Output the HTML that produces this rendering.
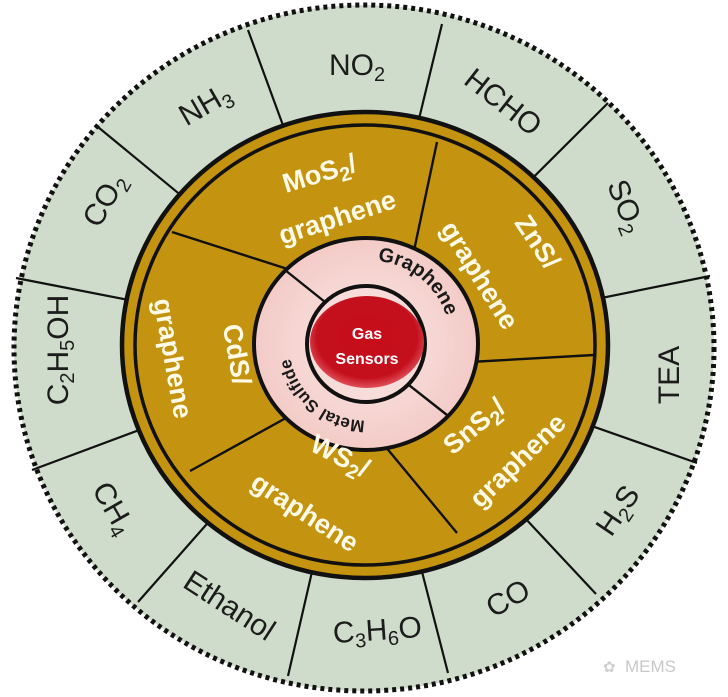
<!DOCTYPE html>
<html><head><meta charset="utf-8"><style>
html,body{margin:0;padding:0;background:#fff;}
svg{display:block;}
.g{font-family:"Liberation Sans",sans-serif;font-size:30px;fill:#1c1c1c;}
.s{font-size:20px;}
.w{font-family:"Liberation Sans",sans-serif;font-weight:bold;font-size:27px;fill:#fffbe8;}
.p{font-family:"Liberation Sans",sans-serif;font-weight:bold;fill:#1a1a1a;}
</style></head><body>
<svg width="728" height="697" viewBox="0 0 728 697" xmlns="http://www.w3.org/2000/svg">
<defs>
<radialGradient id="pk" cx="50%" cy="50%" r="50%"><stop offset="0" stop-color="#fbe7e5"/><stop offset="1" stop-color="#f3cbc7"/></radialGradient>
<radialGradient id="rd" cx="50%" cy="45%" r="55%"><stop offset="0" stop-color="#c80d1a"/><stop offset="0.8" stop-color="#c3101c"/><stop offset="1" stop-color="#e0505a"/></radialGradient>
<path id="gp" d="M329,272 A80,80 0 0 1 446,366"/>
<path id="mp" d="M392,416 A77,77 0 0 1 290,331"/>
</defs>
<ellipse cx="364" cy="348" rx="350" ry="343" fill="#d0dccb" stroke="#111" stroke-width="5" stroke-dasharray="4 4"/>
<g stroke="#111" stroke-width="2.2">
<line x1="248" y1="30" x2="364" y2="346"/>
<line x1="442" y1="24" x2="364" y2="346"/>
<line x1="608" y1="103" x2="364" y2="346"/>
<line x1="710" y1="276" x2="364" y2="346"/>
<line x1="697" y1="463" x2="364" y2="346"/>
<line x1="596" y1="594" x2="364" y2="346"/>
<line x1="448" y1="673" x2="364" y2="346"/>
<line x1="288" y1="676" x2="364" y2="346"/>
<line x1="138" y1="602" x2="364" y2="346"/>
<line x1="32" y1="470" x2="364" y2="346"/>
<line x1="16" y1="278" x2="364" y2="346"/>
<line x1="98" y1="127" x2="364" y2="346"/>
</g>
<ellipse cx="365" cy="345" rx="243" ry="233" fill="#c4930f" stroke="#111" stroke-width="4.5"/>
<ellipse cx="365" cy="345" rx="230" ry="220" fill="none" stroke="#111" stroke-width="3.5"/>
<g stroke="#111" stroke-width="2.4">
<line x1="172" y1="232" x2="300" y2="273"/>
<line x1="437" y1="142" x2="412" y2="260"/>
<line x1="594" y1="355" x2="470" y2="362"/>
<line x1="457" y1="533" x2="380" y2="440"/>
<line x1="190" y1="471" x2="295" y2="413"/>
</g>
<ellipse cx="366" cy="344" rx="112" ry="106" fill="url(#pk)" stroke="#111" stroke-width="4"/>
<g stroke="#111" stroke-width="2.4">
<line x1="285" y1="270" x2="335" y2="310"/>
<line x1="447" y1="415" x2="400" y2="378"/>
</g>
<ellipse cx="366" cy="344" rx="59" ry="58" fill="#f8dcd9" stroke="#111" stroke-width="4"/>
<ellipse cx="367" cy="342" rx="57" ry="46" fill="url(#rd)"/>
<text class="p" font-size="20" text-anchor="middle"><textPath href="#gp" startOffset="50%">Graphene</textPath></text>
<text class="p" font-size="17" text-anchor="middle"><textPath href="#mp" startOffset="50%">Metal Sulfide</textPath></text>
<text x="367" y="339" text-anchor="middle" style="font-family:'Liberation Sans',sans-serif;font-weight:bold;font-size:16px;fill:#fff">Gas</text>
<text x="367" y="364" text-anchor="middle" style="font-family:'Liberation Sans',sans-serif;font-weight:bold;font-size:16px;fill:#fff">Sensors</text>
<g class="w" text-anchor="middle">
<text transform="translate(322,182) rotate(-17)">MoS<tspan class="s" dy="6">2</tspan><tspan dy="-6">/</tspan></text>
<text transform="translate(340,226) rotate(-18)">graphene</text>
<text transform="translate(530,247) rotate(56)">ZnS/</text>
<text transform="translate(472,280) rotate(58)">graphene</text>
<text transform="translate(228,356) rotate(80)">CdS/</text>
<text transform="translate(164,360) rotate(80)">graphene</text>
<text transform="translate(480,433) rotate(-40)">SnS<tspan class="s" dy="6">2</tspan><tspan dy="-6">/</tspan></text>
<text transform="translate(524,467) rotate(-44)">graphene</text>
<text transform="translate(336,464) rotate(27)">WS<tspan class="s" dy="6">2</tspan><tspan dy="-6">/</tspan></text>
<text transform="translate(300,520) rotate(33)">graphene</text>
</g>
<g class="g" text-anchor="middle">
<text transform="translate(357,75)">NO<tspan class="s" dy="6">2</tspan></text>
<text transform="translate(497,110) rotate(38)">HCHO</text>
<text transform="translate(617,210) rotate(68)">SO<tspan class="s" dy="6">2</tspan></text>
<text transform="translate(679,375) rotate(-90)">TEA</text>
<text transform="translate(626,516) rotate(-56)">H<tspan class="s" dy="6">2</tspan><tspan dy="-6">S</tspan></text>
<text transform="translate(513,607) rotate(-30)">CO</text>
<text transform="translate(378,640) rotate(-4)">C<tspan class="s" dy="6">3</tspan><tspan dy="-6">H</tspan><tspan class="s" dy="6">6</tspan><tspan dy="-6">O</tspan></text>
<text transform="translate(224,614) rotate(33)">Ethanol</text>
<text transform="translate(105,513) rotate(60)">CH<tspan class="s" dy="6">4</tspan></text>
<text transform="translate(68,350) rotate(-90)">C<tspan class="s" dy="6">2</tspan><tspan dy="-6">H</tspan><tspan class="s" dy="6">5</tspan><tspan dy="-6">OH</tspan></text>
<text transform="translate(113,205) rotate(-60)">CO<tspan class="s" dy="6">2</tspan></text>
<text transform="translate(210,113) rotate(-30)">NH<tspan class="s" dy="6">3</tspan></text>
</g>
<text x="625" y="672" style="font-family:'Liberation Sans',sans-serif;font-size:17px;fill:#c8c8c8">MEMS</text>
<text x="603" y="672" style="font-family:'Liberation Sans',sans-serif;font-size:15px;fill:#cfcfcf">✿</text>
</svg>
</body></html>
